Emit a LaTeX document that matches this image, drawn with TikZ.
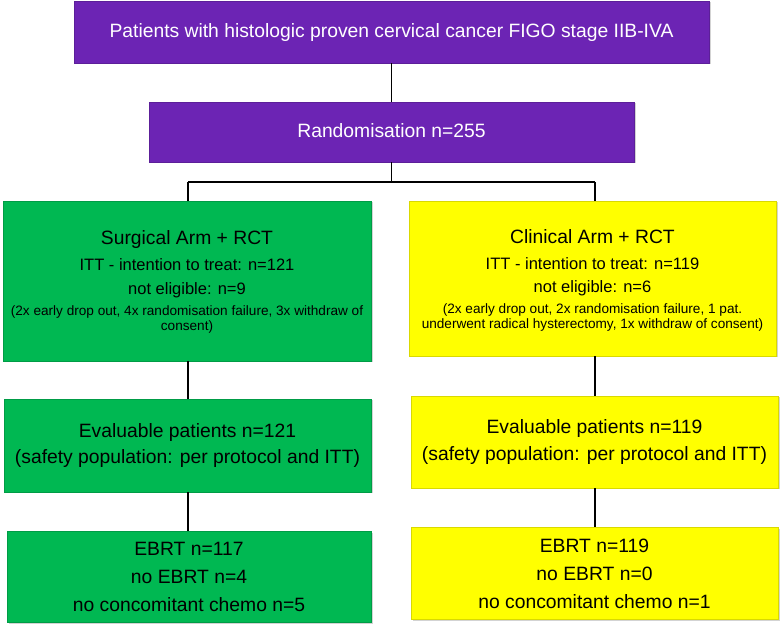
\documentclass[tikz,border=0pt]{standalone}
\usepackage{fontspec}
\setmainfont{Liberation Sans}
\usetikzlibrary{shadows}
\definecolor{pbox}{HTML}{6C24B4}
\definecolor{gbox}{HTML}{00B852}
\definecolor{ybox}{HTML}{FFFF00}
\tikzset{
  boxbase/.style={rectangle, inner sep=0pt, drop shadow={opacity=0.35, shadow xshift=1.5pt, shadow yshift=-1.5pt}},
  purplebox/.style={boxbase, fill=pbox, draw=pbox!85!black, line width=0.4pt},
  greenbox/.style={boxbase, fill=gbox, draw=gbox!85!black, line width=0.4pt},
  yellowbox/.style={boxbase, fill=ybox, draw=ybox!85!black, line width=0.4pt},
  txt/.style={anchor=base, inner sep=0pt},
  big/.style={txt, font=\fontsize{19.3}{23}\selectfont},
  mid/.style={txt, font=\fontsize{16.5}{20}\selectfont},
  small/.style={txt, font=\fontsize{13.6}{15}\selectfont, align=center},
  conn/.style={line width=1.8pt, black}
}
\begin{document}
\begin{tikzpicture}[x=1pt, y=-1pt]
\useasboundingbox (0,0) rectangle (780,628);
% boxes
\node[purplebox, minimum width=635pt, minimum height=62pt] (top) at (391.5,32) {};
\node[purplebox, minimum width=485pt, minimum height=60pt] (rand) at (391.5,132) {};
\node[greenbox, minimum width=368pt, minimum height=160pt] (garm) at (187,281) {};
\node[yellowbox, minimum width=367pt, minimum height=155pt] (yarm) at (592.5,278.5) {};
\node[greenbox, minimum width=367pt, minimum height=93pt] (geval) at (187.5,445.5) {};
\node[yellowbox, minimum width=367pt, minimum height=92pt] (yeval) at (594.5,442) {};
\node[greenbox, minimum width=364pt, minimum height=91pt] (gebrt) at (189,576.5) {};
\node[yellowbox, minimum width=367pt, minimum height=92pt] (yebrt) at (594.5,573) {};
% texts
\node[big, text=white] (toptxt) at (391.5,38) {Patients with histologic proven cervical cancer FIGO stage IIB-IVA};
\node[big, text=white] (randtxt) at (391.5,138) {Randomisation n=255};
\node[big] (ga1) at (187,245) {Surgical Arm + RCT};
\node[mid] (ga2) at (187,271) {ITT - intention to treat: n=121};
\node[mid] (ga3) at (187,295) {not eligible: n=9};
\node[small, anchor=north] (ga4) at (187,305) {(2x early drop out, 4x randomisation failure, 3x withdraw of\\consent)};
\node[big] (ya1) at (592.5,244) {Clinical Arm + RCT};
\node[mid] (ya2) at (592.5,270) {ITT - intention to treat: n=119};
\node[mid] (ya3) at (592.5,293) {not eligible: n=6};
\node[small, anchor=north] (ya4) at (592.5,303) {(2x early drop out, 2x randomisation failure, 1 pat.\\underwent radical hysterectomy, 1x withdraw of consent)};
\node[big] (ge1) at (187.5,438) {Evaluable patients n=121};
\node[big] (ge2) at (187.5,464) {(safety population: per protocol and ITT)};
\node[big] (ye1) at (594.5,434) {Evaluable patients n=119};
\node[big] (ye2) at (594.5,461) {(safety population: per protocol and ITT)};
\node[big] (gb1) at (189,555) {EBRT n=117};
\node[big] (gb2) at (189,583) {no EBRT n=4};
\node[big] (gb3) at (189,611) {no concomitant chemo n=5};
\node[big] (yb1) at (594.5,552) {EBRT n=119};
\node[big] (yb2) at (594.5,580) {no EBRT n=0};
\node[big] (yb3) at (594.5,608) {no concomitant chemo n=1};
% connectors
\coordinate (jl) at (188,182);
\coordinate (jr) at (595,182);
\coordinate (jm) at (391.5,182);
\draw[conn] (top.south) -- (rand.north);
\draw[conn] (rand.south) -- (jm);
\draw[conn] (jl) -- (jr);
\draw[conn] (jl) -- (jl |- garm.north);
\draw[conn] (jr) -- (jr |- yarm.north);
\draw[conn] (jl |- garm.south) -- (jl |- geval.north);
\draw[conn] (jr |- yarm.south) -- (jr |- yeval.north);
\draw[conn] (jl |- geval.south) -- (jl |- gebrt.north);
\draw[conn] (jr |- yeval.south) -- (jr |- yebrt.north);
\end{tikzpicture}
\end{document}
